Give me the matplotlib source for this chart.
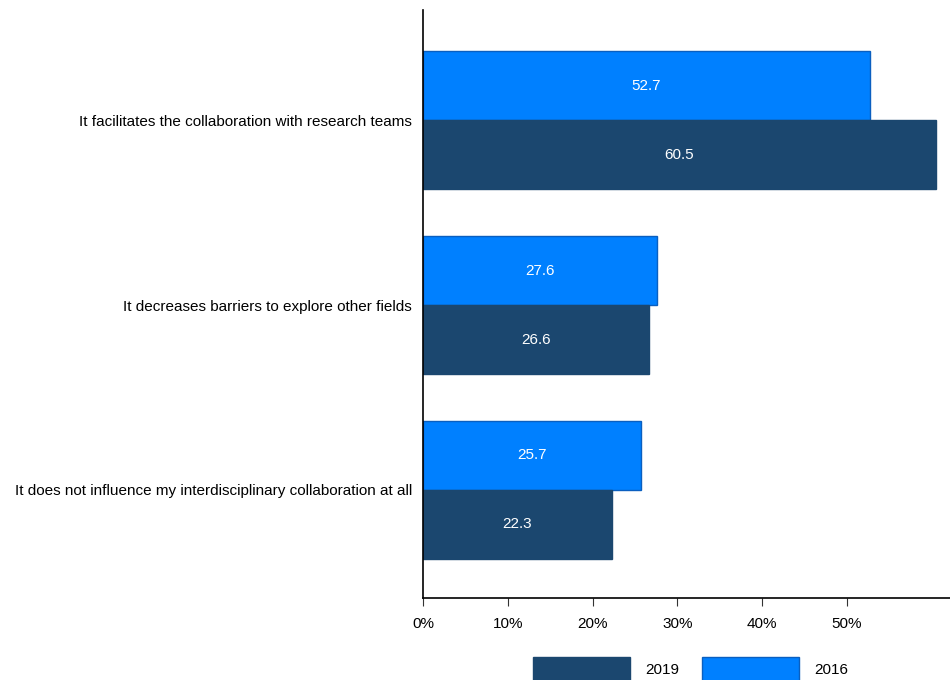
import matplotlib
matplotlib.use('Agg')
import matplotlib.pyplot as plt
import numpy as np
from matplotlib.patches import Patch

plt.rcParams['font.family'] = ['Liberation Sans', 'DejaVu Sans']

categories = ['It facilitates the collaboration with research teams',
              'It decreases barriers to explore other fields',
              'It does not influence my interdisciplinary collaboration at all']
vals_2019 = [60.5, 26.6, 22.3]
vals_2016 = [52.7, 27.6, 25.7]
ticks = [0, 10, 20, 30, 40, 50]

c2019 = '#1b476f'
c2016 = '#0080ff'
edge2016 = '#0a5fc0'
fs = 11

fig = plt.figure(figsize=(9.5, 6.8), dpi=100)
ax = fig.add_axes([423/950, 1-598/680, 527/950, 588/680])

y = np.arange(len(categories))
h = 0.373
b1 = ax.barh(y - h/2, vals_2016, height=h, color=c2016, edgecolor=edge2016, linewidth=1)
b2 = ax.barh(y + h/2, vals_2019, height=h, color=c2019, edgecolor=c2019, linewidth=1)

for bars, vals in ((b1, vals_2016), (b2, vals_2019)):
    for r, v in zip(bars, vals):
        ax.text(v/2, r.get_y() + r.get_height()/2, '%.1f' % v, color='white',
                ha='center', va='center', fontsize=fs)

ax.set_ylim(2.584, -0.595)
ax.set_xlim(0, 527/8.48)
ax.set_yticks(y)
ax.set_yticklabels(categories, fontsize=fs)
ax.tick_params(axis='y', length=0, pad=8)
ax.set_xticks(ticks)
ax.set_xticklabels(['%d%%' % t for t in ticks], fontsize=fs)
ax.tick_params(axis='x', length=6, direction='out', pad=8, color='#333333')
for s in ('top', 'right'):
    ax.spines[s].set_visible(False)
ax.spines['left'].set_linewidth(1.2)
ax.spines['bottom'].set_linewidth(1.2)

handles = [Patch(facecolor=c2019, edgecolor=c2019, label='2019'),
           Patch(facecolor=c2016, edgecolor=edge2016, label='2016')]
fig.legend(handles=handles, loc='upper left', bbox_to_anchor=(533/950, 1-657/680),
           ncol=2, frameon=False, fontsize=fs, handlelength=6.35, handleheight=2.0,
           handletextpad=1.0, columnspacing=1.5, borderpad=0, borderaxespad=0)

fig.savefig('out.png', dpi=100)
